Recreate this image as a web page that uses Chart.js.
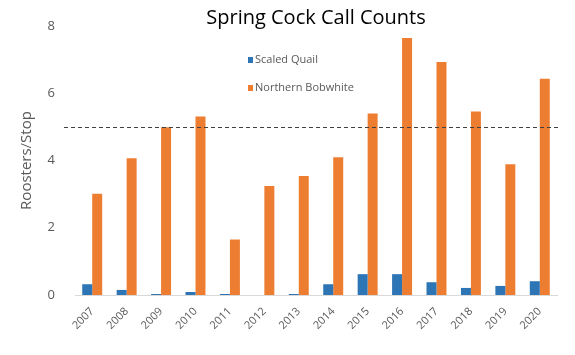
<!DOCTYPE html>
<html>
<head>
<meta charset="utf-8">
<script src="https://cdn.jsdelivr.net/npm/chart.js@4/dist/chart.umd.min.js"></script>
<style>
html,body{margin:0;padding:0;background:#fff;}
#wrap{width:575px;height:355px;position:relative;}
</style>
</head>
<body>
<div id="wrap"><canvas id="c" width="575" height="355"></canvas></div>
<script>
const years = ['2007','2008','2009','2010','2011','2012','2013','2014','2015','2016','2017','2018','2019','2020'];
const scaledQuail = [0.32,0.15,0.03,0.09,0.03,0,0.03,0.32,0.62,0.62,0.38,0.21,0.27,0.41];
const northernBobwhite = [3.01,4.07,4.99,5.31,1.65,3.24,3.54,4.10,5.40,7.64,6.93,5.46,3.89,6.43];
const yTicks = [0,2,4,6,8];
const thresholdValue = 5;
const titleText = 'Spring Cock Call Counts';
const yTitle = 'Roosters/Stop';

const FONT = "'Open Sans', 'Noto Sans', sans-serif";

const overlay = {
  id: 'overlay',
  afterDatasetsDraw(chart) {
    const ctx = chart.ctx, a = chart.chartArea, y = chart.scales.y;
    // dashed threshold line
    const py = Math.round(y.getPixelForValue(thresholdValue)) + 0.5;
    ctx.save();
    ctx.strokeStyle = '#404040';
    ctx.lineWidth = 1;
    ctx.setLineDash([4, 3]);
    ctx.beginPath();
    ctx.moveTo(a.left - 11, py);
    ctx.lineTo(a.right + 3, py);
    ctx.stroke();
    ctx.restore();
  },
  afterDraw(chart) {
    const ctx = chart.ctx, a = chart.chartArea;
    ctx.save();
    // title
    ctx.fillStyle = '#000';
    ctx.font = '20px ' + FONT;
    ctx.textAlign = 'center';
    ctx.textBaseline = 'middle';
    ctx.fillText(titleText, (a.left + a.right) / 2, 18);
    // legend
    ctx.font = '11px ' + FONT;
    ctx.textAlign = 'left';
    chart.data.datasets.forEach((ds, i) => {
      const ly = 60 + i * 28;
      ctx.fillStyle = ds.backgroundColor;
      ctx.fillRect(248, ly - 3, 5, 6);
      ctx.fillStyle = '#595959';
      ctx.fillText(ds.label, 255, ly);
    });
    ctx.restore();
  }
};

new Chart(document.getElementById('c'), {
  type: 'bar',
  data: {
    labels: years,
    datasets: [
      { label: 'Scaled Quail', data: scaledQuail, backgroundColor: '#2E75B6', barPercentage: 1, categoryPercentage: 0.58 },
      { label: 'Northern Bobwhite', data: northernBobwhite, backgroundColor: '#ED7D31', barPercentage: 1, categoryPercentage: 0.58 }
    ]
  },
  options: {
    responsive: false,
    animation: false,
    devicePixelRatio: 1,
    layout: { padding: { top: 26, right: 18, left: 0, bottom: 0 } },
    plugins: { legend: { display: false }, title: { display: false }, tooltip: { enabled: false } },
    scales: {
      x: {
        grid: { display: false },
        border: { display: true, color: '#d9d9d9', width: 1 },
        ticks: { color: '#595959', font: { family: FONT, size: 11 }, minRotation: 45, maxRotation: 45, padding: 2 },
        afterFit(s) { s.height = 60; }
      },
      y: {
        min: 0, max: 8,
        afterBuildTicks(s) { s.ticks = yTicks.map(v => ({ value: v })); },
        grid: { display: false },
        border: { display: false },
        ticks: { color: '#595959', font: { family: FONT, size: 13 }, padding: 12 },
        title: { display: true, text: yTitle, color: '#595959', font: { family: FONT, size: 15 }, padding: { top: 18, bottom: 0 } },
        afterFit(s) { s.width = 75; }
      }
    }
  },
  plugins: [overlay]
});
</script>
</body>
</html>
